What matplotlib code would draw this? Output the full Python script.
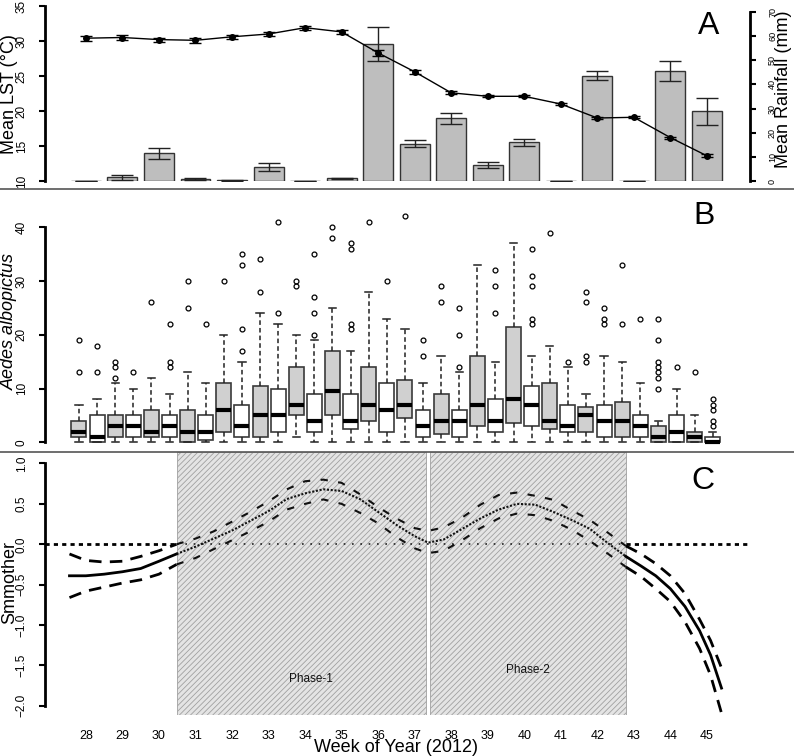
import numpy as np
import matplotlib
matplotlib.use("Agg")
import matplotlib.pyplot as plt
from matplotlib.lines import Line2D

plt.rcParams['font.family'] = ['Liberation Sans', 'DejaVu Sans']
plt.rcParams['hatch.linewidth'] = 0.6

# ---- data ----
weeks = list(range(28, 46))

# panel A: mean land surface temperature (left axis) and rainfall (right axis)
lst = [30.4, 30.5, 30.2, 30.1, 30.6, 31.0, 31.9, 31.3, 28.3, 25.6,
       22.6, 22.1, 22.1, 21.0, 19.0, 19.1, 16.2, 13.6]
lst_err = [0.35, 0.3, 0.3, 0.35, 0.3, 0.35, 0.3, 0.25, 0.4, 0.25,
           0.2, 0.15, 0.15, 0.15, 0.1, 0.15, 0.15, 0.2]
rain = [0.1, 1.5, 11.5, 0.8, 0.3, 5.7, 0.2, 1.1, 56.6, 15.5,
        26.0, 6.5, 16.0, 0.0, 43.6, 0.0, 45.6, 28.9]
rain_err = [0.0, 1.0, 2.2, 0.3, 0.1, 1.7, 0.0, 0.3, 7.0, 1.4,
            2.3, 1.3, 1.3, 0.0, 1.9, 0.0, 4.1, 5.5]

# panel B: Aedes albopictus counts, two boxes per week
box_q1 = [1, 0, 1, 1, 1, 1, 0, 0.5, 2, 1, 1, 2, 5, 2, 5, 2.5, 4, 2,
          4.5, 1, 1.5, 1, 3, 2, 3.5, 3, 2.5, 2, 2, 1, 1, 1, 0, 0, 0, 0]
box_med = [2, 1, 3, 3, 2, 3, 2, 2, 6, 3, 5, 5, 7, 4, 9.5, 4, 7, 6,
           7, 3, 4, 4, 7, 4, 8, 7, 4, 3, 5, 4, 4, 3, 1, 2, 1, 0.1]
box_q3 = [4, 5, 5, 5, 6, 5, 6, 5, 11, 7, 10.5, 10, 14, 9, 17, 9, 14, 11,
          11.5, 6, 9, 6, 16, 8, 21.5, 10.5, 11, 7, 6.5, 7, 7.5, 5, 3, 5, 2, 1]
box_lo = [0, 0, 0, 0, 0, 0, 0, 0, 0, 0, 0, 0, 1, 0, 0, 0, 0, 0,
          0, 0, 0, 0, 0, 0, 0, 0, 0, 0, 0, 0, 0, 0, 0, 0, 0, 0]
box_hi = [7, 8, 11, 10, 12, 9, 13, 11, 20, 15, 24, 22, 20, 19, 25, 17, 28, 23,
          21, 11, 16, 13, 33, 15, 37, 16, 18, 14, 9, 16, 15, 11, 4, 10, 5, 2]
box_out = [[13, 19], [13, 18], [12, 14, 15], [13], [26], [14, 15, 22],
           [25, 30], [22], [30], [17, 21, 33, 35], [28, 34], [24, 41],
           [29, 30], [20, 24, 27, 35], [38, 40], [21, 22, 36, 37], [41], [30],
           [42], [16, 19], [26, 29], [14, 20, 25], [], [24, 29, 32],
           [], [22, 23, 29, 31, 36], [39], [15], [15, 16, 26, 28], [22, 23, 25],
           [22, 33], [23], [10, 12, 13, 14, 15, 19, 23], [14], [13], [3, 4, 6, 7, 8]]
box_gray = [k % 2 == 0 for k in range(36)]

# panel C: smoother and confidence band
c_week = [27.55, 28.0, 28.5, 29.0, 29.5, 30.0, 30.48, 31.0, 31.5, 32.0,
          32.5, 33.0, 33.5, 34.0, 34.5, 35.0, 35.5, 36.0, 36.5, 37.0,
          37.37, 37.8, 38.3, 38.8, 39.3, 39.8, 40.3, 40.8, 41.3, 41.8,
          42.3, 42.78, 43.2, 43.6, 44.0, 44.4, 44.8, 45.1, 45.4]
c_fit = [-0.39, -0.39, -0.37, -0.34, -0.30, -0.21, -0.12, -0.03, 0.07, 0.17,
         0.29, 0.41, 0.56, 0.63, 0.68, 0.66, 0.56, 0.40, 0.24, 0.10,
         0.02, 0.06, 0.19, 0.32, 0.43, 0.50, 0.49, 0.40, 0.30, 0.19,
         0.01, -0.15, -0.27, -0.39, -0.55, -0.77, -1.07, -1.37, -1.78]
c_up = [-0.12, -0.20, -0.22, -0.21, -0.15, -0.08, 0.0, 0.07, 0.16, 0.28,
        0.40, 0.53, 0.68, 0.78, 0.80, 0.76, 0.62, 0.46, 0.32, 0.20,
        0.165, 0.21, 0.33, 0.49, 0.61, 0.64, 0.60, 0.55, 0.42, 0.30,
        0.14, -0.02, -0.12, -0.24, -0.39, -0.61, -0.93, -1.19, -1.53]
c_lo = [-0.66, -0.58, -0.53, -0.48, -0.44, -0.37, -0.25, -0.17, -0.06, 0.05,
        0.16, 0.28, 0.43, 0.50, 0.555, 0.50, 0.39, 0.26, 0.09, -0.05,
        -0.11, -0.08, 0.05, 0.20, 0.32, 0.38, 0.36, 0.29, 0.18, 0.04,
        -0.12, -0.28, -0.40, -0.55, -0.71, -0.96, -1.29, -1.62, -2.09]
phases = [(30.48, 37.30, 'Phase-1', 34.17, -1.67),
          (37.43, 42.78, 'Phase-2', 40.10, -1.55)]

# ---- layout ----
W, H = 794, 756
xlim = (26.88, 46.18)
fig = plt.figure(figsize=(W / 100, H / 100), dpi=100)


def pos(top, bottom, left=45, right=750):
    return [left / W, 1 - bottom / H, (right - left) / W, (bottom - top) / H]


def style_left(ax, lo, hi):
    for s in ['top', 'right', 'bottom']:
        ax.spines[s].set_visible(False)
    ax.spines['left'].set_bounds(lo, hi)
    ax.spines['left'].set_linewidth(2)
    ax.set_xticks([])
    ax.tick_params(axis='y', length=4.5, width=1.5, pad=8, labelsize=8.5, labelrotation=90)
    for t in ax.get_yticklabels():
        t.set_va('center')


# ---- panel A ----
axA = fig.add_axes(pos(6, 181))
axR = axA.twinx()
axA.set_zorder(axR.get_zorder() + 1)
axA.patch.set_visible(False)

axR.bar(weeks, rain, width=0.82, color='#bebebe', edgecolor='#333333', linewidth=1.0,
        yerr=rain_err, capsize=8, error_kw=dict(elinewidth=1, capthick=1, ecolor='#222222'))
axR.set_ylim(0, 72.5)
axR.set_xlim(xlim)
for s in ['top', 'left', 'bottom']:
    axR.spines[s].set_visible(False)
axR.spines['right'].set_bounds(0, 70)
axR.spines['right'].set_linewidth(2)
axR.set_yticks(range(0, 71, 10))
axR.tick_params(axis='y', length=4, width=1.5, pad=9, labelsize=6.5, labelrotation=90)
for t in axR.get_yticklabels():
    t.set_va('center')

axA.errorbar(weeks, lst, yerr=lst_err, fmt='-o', color='black', ms=4, lw=1,
             capsize=4, elinewidth=1, capthick=1)
axA.set_ylim(10, 35)
axA.set_xlim(xlim)
axA.set_yticks(range(10, 36, 5))
style_left(axA, 10, 35)

# ---- panel B ----
axB = fig.add_axes(pos(189, 452))
stats = []
for k in range(36):
    stats.append(dict(med=box_med[k], q1=box_q1[k], q3=box_q3[k],
                      whislo=box_lo[k], whishi=box_hi[k], fliers=box_out[k]))
bpos = [27.81 + 0.4957 * k for k in range(36)]
bp = axB.bxp(stats, positions=bpos, widths=0.41, patch_artist=True, capwidths=0.2,
             boxprops=dict(edgecolor='#3a3a3a', linewidth=1.2),
             medianprops=dict(color='black', linewidth=3),
             whiskerprops=dict(color='#222222', linestyle=(0, (3, 2)), linewidth=1.1),
             capprops=dict(color='#222222', linewidth=1.1),
             flierprops=dict(marker='o', markerfacecolor='none', markeredgecolor='black',
                             markersize=3.5, markeredgewidth=0.9))
for patch, g in zip(bp['boxes'], box_gray):
    patch.set_facecolor('#d0d0d0' if g else 'white')
axB.set_xlim(xlim)
axB.set_ylim(-1.8, 47.1)
axB.set_yticks(range(0, 41, 10))
style_left(axB, 0, 40)

# ---- panel C ----
axC = fig.add_axes(pos(452, 715))
for a, b, name, tx, ty in phases:
    axC.axvspan(a, b, facecolor='#e4e4e4', edgecolor='#a0a0a0', hatch='//////',
                linewidth=0.6, zorder=0)
    axC.text(tx, ty, name, ha='center', va='center', fontsize=8.5, color='#111111')

cw = np.array(c_week)
left = cw <= 30.48
mid = (cw >= 30.48) & (cw <= 42.78)
right = cw >= 42.78
# zero reference line
axC.plot([xlim[0], 30.48], [0, 0], color='black', lw=2, ls=(0, (1.5, 1.5)))
axC.plot([30.48, 42.78], [0, 0], color='#222222', lw=1.2, ls=(0, (1, 4)))
axC.plot([42.78, 46.09], [0, 0], color='black', lw=2, ls=(0, (1.5, 1.5)))
for m in (left, right):
    axC.plot(cw[m], np.array(c_fit)[m], color='black', lw=2)
    axC.plot(cw[m], np.array(c_up)[m], color='black', lw=2, ls=(0, (4.5, 3)))
    axC.plot(cw[m], np.array(c_lo)[m], color='black', lw=2, ls=(0, (4.5, 3)))
axC.plot(cw[mid], np.array(c_fit)[mid], color='#111111', lw=1.5, ls=(0, (1, 0.8)))
axC.plot(cw[mid], np.array(c_up)[mid], color='#111111', lw=1.5, ls=(0, (3.5, 5)))
axC.plot(cw[mid], np.array(c_lo)[mid], color='#111111', lw=1.5, ls=(0, (3.5, 5)))

axC.set_xlim(xlim)
axC.set_ylim(-2.113, 1.142)
axC.set_yticks([-2.0, -1.5, -1.0, -0.5, 0.0, 0.5, 1.0])
style_left(axC, -2, 1)
axC.set_xticks(weeks)
axC.set_xticklabels([str(w) for w in weeks])
axC.tick_params(axis='x', length=0, pad=11, labelsize=9)

# ---- labels ----
fig.text(9.5 / W, 1 - 94 / H, 'Mean LST (°C)', rotation=90, ha='center', va='center', fontsize=13)
fig.text(783 / W, 1 - 89 / H, 'Mean Rainfall (mm)', rotation=90, ha='center', va='center', fontsize=13)
fig.text(9 / W, 1 - 321 / H, 'Aedes albopictus', rotation=90, ha='center', va='center',
         fontsize=13, style='italic')
fig.text(10 / W, 1 - 582 / H, 'Smmother', rotation=90, ha='center', va='center', fontsize=13)
fig.text(396 / W, 1 - 747 / H, 'Week of Year (2012)', ha='center', va='center', fontsize=13)
for lab, x, y in [('A', 709, 26), ('B', 704, 216), ('C', 703, 481)]:
    fig.text(x / W, 1 - y / H, lab, ha='center', va='center', fontsize=23)

for y in (188.5, 452):
    fig.add_artist(Line2D([0, 1], [1 - y / H] * 2, color='#555555', lw=1.2))

fig.savefig('out.png', dpi=100)
